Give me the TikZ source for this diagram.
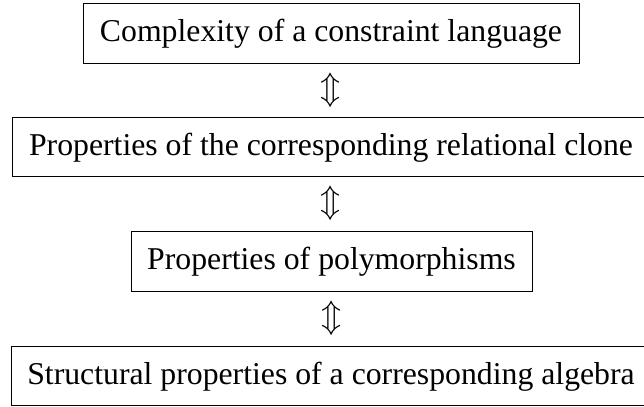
\documentclass[tikz,border=0pt]{standalone}
\usepackage{fontspec}
\usepackage{graphicx}
\setmainfont{Liberation Serif}
\newcommand{\eqvglyph}{\scalebox{1.33}{$\Updownarrow$}}
\begin{document}
\begin{tikzpicture}[x=1bp,y=-1bp,
  stepbox/.style={draw=black,line width=0.8bp,inner sep=0pt,outer sep=0pt,
    font=\fontsize{31.75bp}{38bp}\selectfont,text height=25.2bp,text depth=7.3bp},
  equiv/.style={font=\fontsize{24.88pt}{30pt}\selectfont,inner sep=0pt}]
\useasboundingbox (0,0) rectangle (644,406);
\clip (0,0) rectangle (644,406);
\node[stepbox,minimum width=496bp,minimum height=60bp] (b1) at (331,33) {Complexity of a constraint language};
\node[stepbox,minimum width=638bp,minimum height=59bp] (b2) at (331,146.5) {Properties of the corresponding relational clone};
\node[stepbox,minimum width=401bp,minimum height=60bp] (b3) at (331.5,261) {Properties of polymorphisms};
\node[stepbox,minimum width=640bp,minimum height=59bp] (b4) at (331,375.5) {Structural properties of a corresponding algebra};
\path (b1.south) -- node[equiv] (a1) {\eqvglyph} (b1.south |- b2.north);
\path (b2.south) -- node[equiv] (a2) {\eqvglyph} (b2.south |- b3.north);
\path (b3.south) -- node[equiv] (a3) {\eqvglyph} (b3.south |- b4.north);
\end{tikzpicture}
\end{document}
